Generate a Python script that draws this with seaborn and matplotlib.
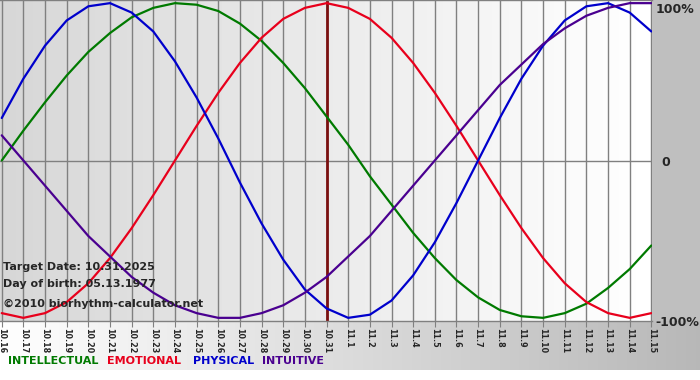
import numpy as np
import pandas as pd
import matplotlib
matplotlib.use("Agg")
import matplotlib.pyplot as plt
import seaborn as sns

# dates shown on the x axis (10.16 .. 11.15)
dates = ["10.%d" % d for d in range(16, 32)] + ["11.%d" % d for d in range(1, 16)]

# biorhythm values, one per day
physical = [0.27, 0.52, 0.73, 0.89, 0.98, 1.00, 0.94, 0.82, 0.63, 0.40, 0.14,
            -0.14, -0.40, -0.63, -0.82, -0.94, -1.00, -0.98, -0.89, -0.73, -0.52,
            -0.27, 0.00, 0.27, 0.52, 0.73, 0.89, 0.98, 1.00, 0.94, 0.82]
emotional = [-0.97, -1.00, -0.97, -0.90, -0.78, -0.62, -0.43, -0.22, 0.00, 0.22, 0.43,
             0.62, 0.78, 0.90, 0.97, 1.00, 0.97, 0.90, 0.78, 0.62, 0.43,
             0.22, 0.00, -0.22, -0.43, -0.62, -0.78, -0.90, -0.97, -1.00, -0.97]
intellectual = [0.00, 0.19, 0.37, 0.54, 0.69, 0.81, 0.91, 0.97, 1.00, 0.99, 0.95,
                0.87, 0.76, 0.62, 0.46, 0.28, 0.10, -0.10, -0.28, -0.46, -0.62,
                -0.76, -0.87, -0.95, -0.99, -1.00, -0.97, -0.91, -0.81, -0.69, -0.54]
intuitive = [0.16, 0.00, -0.16, -0.32, -0.48, -0.61, -0.74, -0.84, -0.92, -0.97, -1.00,
             -1.00, -0.97, -0.92, -0.84, -0.74, -0.61, -0.48, -0.32, -0.16, 0.00,
             0.16, 0.32, 0.48, 0.61, 0.74, 0.84, 0.92, 0.97, 1.00, 1.00]

target_idx = dates.index("10.31")

series = {
    "INTELLECTUAL": (intellectual, "#007a00"),
    "EMOTIONAL": (emotional, "#e8001c"),
    "PHYSICAL": (physical, "#0000cc"),
    "INTUITIVE": (intuitive, "#4a0090"),
}

sns.set_style("white")
plt.rcParams['font.family'] = ['DejaVu Sans']

W, H = 700, 380
fig = plt.figure(figsize=(7, 3.8), dpi=100)

# figure background: grey right margin, gradient strip under the plot
bg = np.full((H, W, 3), 0.75)
grad = np.linspace(1.0, 0.72, W)
bg[321:370, :, :] = grad[None, :, None]
bg[370:, :, :] = 1.0
bga = fig.add_axes([0, 0, 1, 1])
bga.imshow(bg, aspect='auto', interpolation='bilinear')
bga.axis('off')

ax = fig.add_axes([0, (H - 321) / H, 652 / W, 321 / H])
x0, x1, y0, y1 = -0.08, 30.03, -1.02, 1.02
ax.imshow(np.linspace(0.84, 1.0, 200)[None, :], extent=[x0, x1, y0, y1],
          aspect='auto', cmap='gray', vmin=0, vmax=1, zorder=0)

xs = np.arange(len(dates))
for i in xs:
    ax.axvline(i, color="#808080", lw=1, zorder=1)
ax.axhline(0, color="#808080", lw=1, zorder=1)
ax.axvline(target_idx, color="#7a1010", lw=2, zorder=2)

for name, (vals, col) in series.items():
    sns.lineplot(x=xs, y=vals, color=col, lw=1.6, ax=ax, zorder=3)

ax.set_xlim(x0, x1)
ax.set_ylim(y0, y1)
ax.set_xticks(xs)
ax.set_xticklabels(dates, rotation=-90, fontsize=5.8, fontweight='bold')
ax.set_yticks([])
ax.tick_params(axis='x', length=4, color="#808080", pad=1, bottom=True)
for s in ["left", "right"]:
    ax.spines[s].set_visible(False)
for s in ["top", "bottom"]:
    ax.spines[s].set_color("#808080")
    ax.spines[s].set_linewidth(1)

# right-hand scale labels
for yv, lab in [(0.96, "100%"), (-0.01, "0"), (-1.03, "-100%")]:
    ax.text(30.2 if lab != "0" else 30.45, yv, lab, fontsize=9, fontweight='bold',
            va='center', ha='left', clip_on=False)

# info text inside the plot
info = ["Target Date: 10.31.2025", "Day of birth: 05.13.1977"]
ax.text(0.08, -0.68, info[0], fontsize=8, fontweight='bold', va='center', zorder=5)
ax.text(0.08, -0.785, info[1], fontsize=8, fontweight='bold', va='center', zorder=5)
ax.text(0.08, -0.91, "\u00a92010 biorhythm-calculator.net", fontsize=8,
        fontweight='bold', va='center', zorder=5)

# coloured legend words
leg_x = [8, 107, 193, 262]
for (name, (vals, col)), lx in zip(series.items(), leg_x):
    fig.text(lx / W, 1 - 361 / H, name, color=col, fontsize=8, fontweight='bold',
             va='center', ha='left')

fig.savefig("out.png", dpi=100)
